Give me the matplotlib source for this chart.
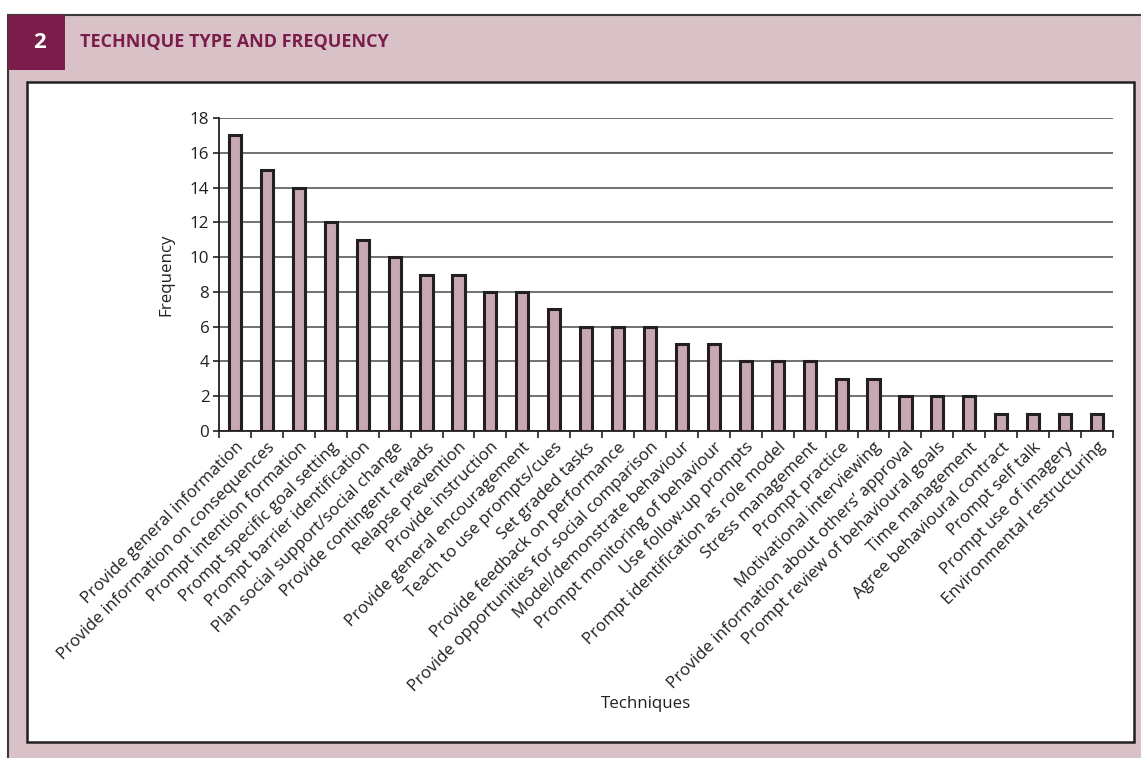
import matplotlib.pyplot as plt
from matplotlib.patches import Rectangle

# technique counts
techniques = [
    'Provide general information',
    'Provide information on consequences',
    'Prompt intention formation',
    'Prompt specific goal setting',
    'Prompt barrier identification',
    'Plan social support/social change',
    'Provide contingent rewads',
    'Relapse prevention',
    'Provide instruction',
    'Provide general encouragement',
    'Teach to use prompts/cues',
    'Set graded tasks',
    'Provide feedback on performance',
    'Provide opportunities for social comparison',
    'Model/demonstrate behaviour',
    'Prompt monitoring of behaviour',
    'Use follow-up prompts',
    'Prompt identification as role model',
    'Stress management',
    'Prompt practice',
    'Motivational interviewing',
    'Provide information about others\u2019 approval',
    'Prompt review of behavioural goals',
    'Time management',
    'Agree behavioural contract',
    'Prompt self talk',
    'Prompt use of imagery',
    'Environmental restructuring',
]
frequency = [17, 15, 14, 12, 11, 10, 9, 9, 8, 8, 7, 6, 6, 6, 5, 5, 4, 4, 4, 3, 3, 2, 2, 2, 1, 1, 1, 1]
yticks = [0, 2, 4, 6, 8, 10, 12, 14, 16, 18]

W, H = 1141, 758
pink = '#d8c2c7'
plum = '#7b1d4b'
bar_col = '#c8a8b1'
dark = '#231f20'
fs = 12.2

plt.rcParams['font.family'] = ['Open Sans', 'DejaVu Sans']

fig = plt.figure(figsize=(W / 100, H / 100), dpi=100)
fig.patch.set_facecolor('white')

def px(x, y, w, h, **kw):
    # rectangle in pixel coords (top-left origin), kept behind the axes
    fig.patches.append(Rectangle((x / W, 1 - (y + h) / H), w / W, h / H,
                                 transform=fig.transFigure, zorder=-10, **kw))

# outer pink frame, runs off the right and bottom edges
px(8, 15, 1140, 750, facecolor=pink, edgecolor='#3a3a3a', linewidth=1.5)
# number box
px(8, 15, 57, 55, facecolor=plum, edgecolor='none')
fig.text(40 / W, 1 - 42 / H, '2', color='white', fontsize=16, fontweight='bold',
         ha='center', va='center')
fig.text(80 / W, 1 - 42 / H, 'TECHNIQUE TYPE AND FREQUENCY', color=plum,
         fontsize=13, fontweight='bold', ha='left', va='center',
         fontstretch='condensed')
# white inner panel
px(27, 82, 1107, 660, facecolor='white', edgecolor=dark, linewidth=1.8)

ax = fig.add_axes([219 / W, 1 - 431 / H, 894 / W, 313 / H])
ax.set_facecolor('none')
x = list(range(len(techniques)))
ax.bar(x, frequency, width=0.38, color=bar_col, edgecolor=dark, linewidth=2.2, zorder=3)

ax.set_xlim(-0.5, len(techniques) - 0.5)
ax.set_ylim(0, 18)
ax.set_yticks(yticks)
ax.yaxis.grid(True, color='#4a4a4a', linewidth=1.1, zorder=0)
ax.set_axisbelow(True)

ax.set_xticks(x)
ax.set_xticklabels(techniques, rotation=45, ha='right', rotation_mode='anchor',
                   fontsize=fs, color='#231f20')
ax.tick_params(axis='x', which='major', length=0, pad=6)
ax.set_xticks([i + 0.5 for i in range(-1, len(techniques))], minor=True)
ax.tick_params(axis='x', which='minor', length=5, width=1.2, color=dark)
ax.tick_params(axis='y', length=4, width=1.2, color=dark, labelsize=fs,
               labelcolor='#231f20', pad=3)

for s in ['top', 'right']:
    ax.spines[s].set_visible(False)
ax.spines['left'].set_color(dark)
ax.spines['left'].set_linewidth(1.3)
ax.spines['bottom'].set_color(dark)
ax.spines['bottom'].set_linewidth(1.3)

ax.set_ylabel('Frequency', fontsize=fs, color='#231f20', labelpad=11)
fig.text(646 / W, 1 - 704 / H, 'Techniques', fontsize=fs, color='#231f20',
         ha='center', va='center')

fig.savefig('out.png', dpi=100)
